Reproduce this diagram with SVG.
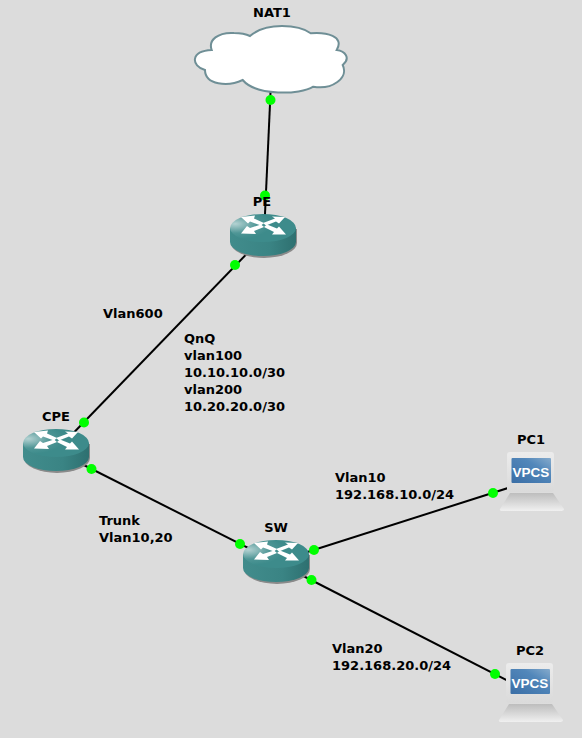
<svg xmlns="http://www.w3.org/2000/svg" width="582" height="738" viewBox="0 0 582 738">
<style>
.lbl{font-family:"DejaVu Sans",sans-serif;font-weight:700;font-size:13px;fill:#000}
.link{stroke:#000;stroke-width:2;fill:none}
.dot{fill:#00ff00}
.head{fill:#fff}
</style>
<defs>
<radialGradient id="top" cx="0.08" cy="0.35" r="0.55">
<stop offset="0" stop-color="#b4d2d2"/><stop offset="0.6" stop-color="#4f9696"/><stop offset="1" stop-color="#3d8b8b"/>
</radialGradient>
<linearGradient id="body" x1="0" y1="0" x2="1" y2="0">
<stop offset="0" stop-color="#418c8c"/><stop offset="0.6" stop-color="#3a8484"/><stop offset="1" stop-color="#2e7070"/>
</linearGradient>
<linearGradient id="base" x1="0" y1="0" x2="0" y2="1">
<stop offset="0" stop-color="#bdbdbd"/><stop offset="1" stop-color="#f0f0f0"/>
</linearGradient>
<linearGradient id="frame" x1="0" y1="0" x2="0" y2="1">
<stop offset="0" stop-color="#ececec"/><stop offset="1" stop-color="#dadada"/>
</linearGradient>
<linearGradient id="screen" x1="0" y1="1" x2="1" y2="0">
<stop offset="0" stop-color="#3a6ea6"/><stop offset="0.65" stop-color="#5287ba"/><stop offset="1" stop-color="#86abcc"/>
</linearGradient>
<g id="router">
<path d="M1 15V29A33 15 0 0 0 67 29V15Z" fill="#8a8a8a"/>
<path d="M0 14V28A33 14 0 0 0 66 28V14Z" fill="url(#body)"/>
<ellipse cx="33" cy="14" rx="33" ry="14" fill="url(#top)"/>
<path class="head" d="M11 3L25 1.500L24 4.500L34 9L31 11.500L20 7.500L18 9.500Z"/>
<path class="head" d="M36 11.500L33 9L45 4.500L42 2.500L55 3L49 9.500L46 7.500Z"/>
<path class="head" d="M11 19.500L17 12L20 14L31 10.500L34 13L24 17L26 20Z"/>
<path class="head" d="M34 13L37 10.500L47 14.500L49 12.500L56 20.500L42 20.500L44 18Z"/>
</g>
<g id="vpcs">
<rect x="507" y="452" width="47" height="40" rx="3" fill="url(#frame)"/>
<rect x="511.500" y="458" width="39.500" height="25" rx="1" fill="url(#screen)"/>
<path d="M510 493H553L564 509Q564 511 560 511H503Q499 511 500 509Z" fill="url(#base)"/>
<text x="531" y="476.500" text-anchor="middle" font-family="'Liberation Sans',sans-serif" font-weight="700" font-size="13.500" fill="#fff">VPCS</text>
</g>
</defs>
<rect width="582" height="738" fill="#dcdcdc"/>
<g id="connectors">
<path class="link" d="M272 60L264 236"/>
<path class="link" d="M264 236L56 451"/>
<path class="link" d="M56 451L276 562"/>
<path class="link" d="M276 562L530 481"/>
<path class="link" d="M276 562L530 692"/>
</g>
<g id="NAT1">
<path d="M211.700 50C208 40 218 32 234 33C240 33 246 34 250 36C258 29 270 26 282 26C294 26 305 29 310.700 33.300C326 32 345 36 336.700 50C345 51 351 58 342.700 65C349 78 332 90 313.300 86.700C300 95 256 96 242.700 80C228 87 205 85 205 70C191 66 190 51 211.700 50Z" fill="#fff" stroke="#6f8f96" stroke-width="2"/>
<text class="lbl" x="272" y="17" text-anchor="middle">NAT1</text>
</g>
<g id="PE">
<use href="#router" x="230" y="214"/>
</g>
<g id="CPE">
<use href="#router" x="23" y="429"/>
<text class="lbl" x="56" y="421" text-anchor="middle">CPE</text>
</g>
<g id="SW">
<use href="#router" x="243" y="540"/>
<text class="lbl" x="276" y="532" text-anchor="middle">SW</text>
</g>
<g id="PC1">
<use href="#vpcs"/>
<text class="lbl" x="531" y="444" text-anchor="middle">PC1</text>
</g>
<g id="PC2">
<use href="#vpcs" x="-1" y="211"/>
<text class="lbl" x="530" y="655" text-anchor="middle">PC2</text>
</g>
<g id="dots">
<circle class="dot" cx="270.500" cy="100" r="5"/>
<circle class="dot" cx="265" cy="195.500" r="5"/>
<circle class="dot" cx="235" cy="265" r="5"/>
<circle class="dot" cx="84" cy="422.500" r="5"/>
<circle class="dot" cx="91.500" cy="469" r="5"/>
<circle class="dot" cx="240" cy="544" r="5"/>
<circle class="dot" cx="314" cy="550" r="5"/>
<circle class="dot" cx="493" cy="493" r="5"/>
<circle class="dot" cx="311.500" cy="580" r="5"/>
<circle class="dot" cx="495" cy="674" r="5"/>
</g>
<g id="labels">
<text class="lbl" x="262" y="206" text-anchor="middle">PE</text>
<text class="lbl" x="103" y="318">Vlan600</text>
<text class="lbl" x="184" y="343">QnQ</text>
<text class="lbl" x="184" y="360">vlan100</text>
<text class="lbl" x="184" y="377">10.10.10.0/30</text>
<text class="lbl" x="184" y="394">vlan200</text>
<text class="lbl" x="184" y="411">10.20.20.0/30</text>
<text class="lbl" x="335" y="482">Vlan10</text>
<text class="lbl" x="335" y="499">192.168.10.0/24</text>
<text class="lbl" x="99" y="525">Trunk</text>
<text class="lbl" x="99" y="542">Vlan10,20</text>
<text class="lbl" x="332" y="653">Vlan20</text>
<text class="lbl" x="332" y="670">192.168.20.0/24</text>
</g>
</svg>
